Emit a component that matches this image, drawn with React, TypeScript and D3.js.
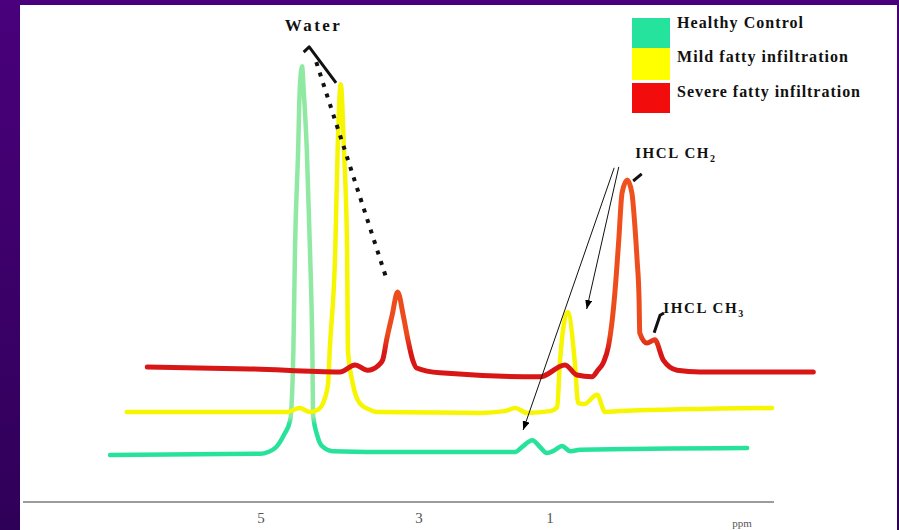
import React from 'react';
import * as d3 from 'd3';

const W = 899;
const H = 530;

// ---------- data ----------
const seriesNames = ['Healthy Control', 'Mild fatty infiltration', 'Severe fatty infiltration'];
const tickValues = [5, 3, 1];
const tickLabels = ['5', '3', '1'];
const axisUnit = 'ppm';

// [ppm, intensity]
const healthyControl: [number, number][] = [
  [6.91, 10.2], [5.01, 10.5], [4.91, 10.9], [4.81, 12.0], [4.71, 14.8], [4.63, 18.2],
  [4.59, 34.1], [4.57, 56.8], [4.53, 79.5], [4.51, 93.2], [4.48, 98.6], [4.46, 93.2],
  [4.42, 79.5], [4.38, 56.8], [4.35, 34.1], [4.34, 19.3], [4.29, 14.8], [4.23, 12.3],
  [4.09, 11.1], [3.24, 10.9], [1.53, 10.9], [1.43, 12.0], [1.27, 13.6], [1.15, 12.0],
  [1.05, 10.7], [0.92, 11.4], [0.82, 12.3], [0.69, 11.1], [0.54, 11.4], [-2.01, 11.8],
];

const mildFatty: [number, number][] = [
  [6.70, 20.0], [4.67, 20.0], [4.51, 20.9], [4.38, 20.0], [4.28, 20.5], [4.20, 22.7],
  [4.15, 26.6], [4.13, 34.1], [4.06, 56.8], [4.03, 79.5], [3.99, 94.5], [3.95, 79.5],
  [3.91, 56.8], [3.90, 34.1], [3.84, 26.6], [3.75, 22.0], [3.62, 20.5], [3.53, 20.0],
  [2.07, 19.8], [1.69, 20.2], [1.53, 20.9], [1.35, 19.8], [1.00, 20.2], [0.89, 21.1],
  [0.85, 31.1], [0.73, 42.7], [0.62, 31.1], [0.57, 22.0], [0.48, 21.8], [0.28, 23.9],
  [0.16, 20.0], [-0.07, 20.2], [-2.39, 20.9],
];

const severeFatty: [number, number][] = [
  [6.44, 30.2], [5.14, 29.8], [4.00, 29.1], [3.81, 30.7], [3.65, 29.5], [3.52, 30.5],
  [3.46, 31.8], [3.41, 36.4], [3.34, 42.0], [3.27, 47.3], [3.20, 42.0], [3.14, 36.4],
  [3.08, 31.8], [3.03, 30.0], [2.68, 28.9], [1.15, 28.0], [0.77, 30.7], [0.59, 28.4],
  [0.36, 28.0], [0.27, 29.5], [0.18, 31.4], [0.11, 34.8], [0.05, 40.9], [0.01, 47.0],
  [-0.05, 59.1], [-0.10, 69.8], [-0.18, 72.7], [-0.25, 69.8], [-0.30, 61.4], [-0.33, 54.5],
  [-0.36, 45.5], [-0.37, 38.0], [-0.48, 35.7], [-0.60, 36.4], [-0.73, 31.8], [-0.94, 29.5],
  [-1.29, 29.1], [-3.02, 29.1],
];

// annotations in data units [ppm, intensity]
const waterLabel = { text: 'Water', at: [4.35, 106.6] as [number, number] };
const waterPointer: [number, number][] = [[4.46, 101.8], [4.39, 103.0], [4.05, 94.8]];
const waterDotted: [number, number][] = [[4.30, 99.5], [3.41, 50.2]];
const ch2Label = { text: 'IHCL CH', sub: '2', at: [-0.30, 77.7] as [number, number] };
const ch2Pointer: [number, number][] = [[-0.27, 72.5], [-0.40, 74.1]];
const ch2Arrows: [number, number][][] = [
  [[0.02, 75.5], [1.41, 15.9]],
  [[-0.05, 75.7], [0.44, 43.4]],
];
const ch3Label = { text: 'IHCL CH', sub: '3', at: [-0.73, 42.5] as [number, number] };
const ch3Pointer: [number, number][] = [[-0.59, 38.0], [-0.68, 42.0], [-0.74, 42.5]];

// ---------- layout ----------
const x = d3.scaleLinear().domain([5, 3, 1]).range([261, 419, 550]);
const y = d3.scaleLinear().domain([0, 100]).range([500, 60]);

const line = d3
  .line<[number, number]>()
  .x((d) => x(d[0]))
  .y((d) => y(d[1]))
  .curve(d3.curveMonotoneX);

const straight = d3
  .line<[number, number]>()
  .x((d) => x(d[0]))
  .y((d) => y(d[1]));

const serif = "'Liberation Serif', 'Times New Roman', serif";
const legendColors = ['#25e39c', '#ffff00', '#f20c0c'];

export default function App() {
  const legendRows = [
    { y0: 18, y1: 48, ty: 28, len: 126 },
    { y0: 48, y1: 80, ty: 62, len: 171 },
    { y0: 83, y1: 113, ty: 97, len: 183 },
  ];
  return (
    <svg
      width={W}
      height={H}
      style={{ position: 'absolute', left: 0, top: 0, display: 'block' }}
    >
      <defs>
        <linearGradient id="bg" x1="0" y1="0" x2="0" y2="1">
          <stop offset="0" stopColor="#4a007c" />
          <stop offset="1" stopColor="#2f0058" />
        </linearGradient>
        <linearGradient id="gGreen" gradientUnits="userSpaceOnUse" x1="0" y1="60" x2="0" y2="460">
          <stop offset="0" stopColor="#8fe9a2" />
          <stop offset="0.892" stopColor="#8fe9a2" />
          <stop offset="0.91" stopColor="#27e29b" />
          <stop offset="1" stopColor="#27e29b" />
        </linearGradient>
        <linearGradient id="gRed" gradientUnits="userSpaceOnUse" x1="0" y1="170" x2="0" y2="380">
          <stop offset="0" stopColor="#f0521f" />
          <stop offset="0.78" stopColor="#ec4a1c" />
          <stop offset="0.87" stopColor="#d81616" />
          <stop offset="1" stopColor="#d81616" />
        </linearGradient>
        <marker
          id="arrow"
          viewBox="0 0 10 10"
          refX="10"
          refY="5"
          markerWidth="9"
          markerHeight="7"
          markerUnits="userSpaceOnUse"
          orient="auto"
          preserveAspectRatio="none"
        >
          <path d="M0,0 L10,5 L0,10 z" fill="#000" />
        </marker>
      </defs>

      <rect x={0} y={0} width={W} height={H} fill="url(#bg)" />
      <rect x={20} y={5} width={877} height={H - 5} fill="#ffffff" />

      {/* axis */}
      <line x1={23} x2={774} y1={502} y2={502} stroke="#9c9c9c" strokeWidth={2} />
      {tickValues.map((t, i) => (
        <text
          key={t}
          x={x(t)}
          y={523}
          textAnchor="middle"
          fontFamily={serif}
          fontSize={15}
          fill="#555"
        >
          {tickLabels[i]}
        </text>
      ))}
      <text x={742} y={527} textAnchor="middle" fontFamily={serif} fontSize={11} fill="#555">
        {axisUnit}
      </text>

      {/* spectra */}
      <path d={line(healthyControl) || ''} fill="none" stroke="url(#gGreen)" strokeWidth={4.5} strokeLinejoin="round" strokeLinecap="round" />
      <path d={line(mildFatty) || ''} fill="none" stroke="#f6f600" strokeWidth={4.5} strokeLinejoin="round" strokeLinecap="round" />
      <path d={line(severeFatty) || ''} fill="none" stroke="url(#gRed)" strokeWidth={5} strokeLinejoin="round" strokeLinecap="round" />

      {/* water annotation */}
      <text
        x={x(waterLabel.at[0])}
        y={y(waterLabel.at[1])}
        textAnchor="middle"
        fontFamily={serif}
        fontWeight="bold"
        fontSize={17}
        textLength={55}
        lengthAdjust="spacing"
        fill="#111"
      >
        {waterLabel.text}
      </text>
      <path d={straight(waterPointer) || ''} fill="none" stroke="#111" strokeWidth={3} strokeLinejoin="round" />
      <path d={straight(waterDotted) || ''} fill="none" stroke="#111" strokeWidth={4} strokeDasharray="4 7" />

      {/* CH2 annotation */}
      <text
        x={x(ch2Label.at[0])}
        y={y(ch2Label.at[1])}
        fontFamily={serif}
        fontWeight="bold"
        fontSize={15}
        letterSpacing={1.6}
        fill="#111"
      >
        {ch2Label.text}
        <tspan fontSize={10} dy={4}>
          {ch2Label.sub}
        </tspan>
      </text>
      <path d={straight(ch2Pointer) || ''} fill="none" stroke="#111" strokeWidth={3} />
      {ch2Arrows.map((a, i) => (
        <path key={i} d={straight(a) || ''} fill="none" stroke="#111" strokeWidth={1} markerEnd="url(#arrow)" />
      ))}

      {/* CH3 annotation */}
      <text
        x={x(ch3Label.at[0])}
        y={y(ch3Label.at[1])}
        fontFamily={serif}
        fontWeight="bold"
        fontSize={15}
        letterSpacing={1.6}
        fill="#111"
      >
        {ch3Label.text}
        <tspan fontSize={10} dy={4}>
          {ch3Label.sub}
        </tspan>
      </text>
      <path d={straight(ch3Pointer) || ''} fill="none" stroke="#111" strokeWidth={3} strokeLinejoin="round" />

      {/* legend */}
      {seriesNames.map((name, i) => (
        <g key={name}>
          <rect
            x={632}
            y={legendRows[i].y0}
            width={38}
            height={legendRows[i].y1 - legendRows[i].y0}
            fill={legendColors[i]}
          />
          <text
            x={677}
            y={legendRows[i].ty}
            fontFamily={serif}
            fontWeight="bold"
            fontSize={16}
            textLength={legendRows[i].len}
            lengthAdjust="spacing"
            fill="#111"
          >
            {name}
          </text>
        </g>
      ))}
    </svg>
  );
}
